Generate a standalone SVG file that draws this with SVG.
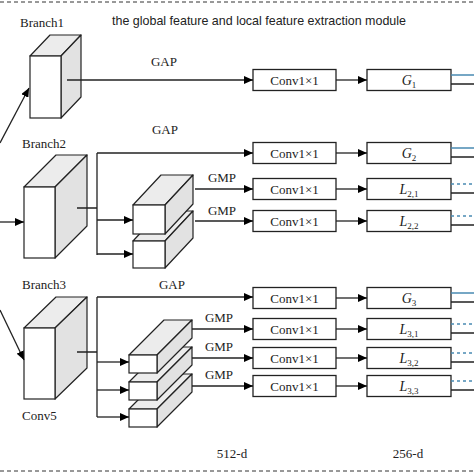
<svg xmlns="http://www.w3.org/2000/svg" width="474" height="474" viewBox="0 0 474 474">
<defs>
<marker id="ah" markerWidth="9" markerHeight="8" refX="9" refY="4" orient="auto" markerUnits="userSpaceOnUse"><path d="M0,0 L9,4 L0,8 z" fill="#000"/></marker>
</defs>
<style>
.t{font-family:"Liberation Serif","Times New Roman",serif;font-size:13px;fill:#222}
.ts{font-family:"Liberation Sans",Arial,sans-serif;font-size:13px;fill:#222}
.lb{font-family:"Liberation Serif","Times New Roman",serif;font-size:14px;font-style:italic;fill:#222;text-anchor:middle}
.sub{font-size:9px;font-style:normal}
.box{fill:#fff;stroke:#222;stroke-width:1.3}
.front{fill:#fff;stroke:#222;stroke-width:1.2}
.top{fill:#ececec;stroke:#222;stroke-width:1.2;stroke-linejoin:round}
.side{fill:#e2e2e2;stroke:#222;stroke-width:1.2;stroke-linejoin:round}
.ln{stroke:#222;stroke-width:1.3;fill:none}
.ar{stroke:#222;stroke-width:1.3;fill:none;marker-end:url(#ah)}
.bl{stroke:#4a8bb3;stroke-width:1.6;fill:none}
.bd{stroke:#4a8bb3;stroke-width:1.4;fill:none;stroke-dasharray:3 3}
.dash{stroke:#333;stroke-width:1;stroke-dasharray:4 3;fill:none}
.c{text-anchor:middle}
</style>
<rect width="474" height="474" fill="#fff"/>
<line class="dash" x1="0" y1="2" x2="474" y2="2"/>
<line class="dash" x1="0" y1="471" x2="474" y2="471"/>
<text class="ts" x="112" y="25" textLength="294" lengthAdjust="spacingAndGlyphs">the global feature and local feature extraction module</text>

<g id="branch1">
<polygon class="top" points="30,56 50,35 81,35 61,56"/>
<polygon class="side" points="61,56 81,35 81,97 61,118"/>
<rect class="front" x="30" y="56" width="31" height="62"/>
<text class="t" x="20" y="27">Branch1</text>
</g>
<g id="branch2">
<polygon class="top" points="24,187 56,155 87,155 55,187"/>
<polygon class="side" points="55,187 87,155 87,226 55,258"/>
<rect class="front" x="24" y="187" width="31" height="71"/>
<text class="t" x="22" y="148">Branch2</text>
</g>
<g id="branch2-parts">
<polygon class="top" points="133,241 161,211 193,211 165,241"/>
<polygon class="side" points="165,241 193,211 193,238 165,268"/>
<rect class="front" x="133" y="241" width="32" height="27"/>
<polygon class="top" points="133,205 161,175 193,175 165,205"/>
<polygon class="side" points="165,205 193,175 193,204 165,234"/>
<rect class="front" x="133" y="205" width="32" height="29"/>
</g>
<g id="branch3">
<polygon class="top" points="24,328 56,297 87,297 55,328"/>
<polygon class="side" points="55,328 87,297 87,368 55,399"/>
<rect class="front" x="24" y="328" width="31" height="71"/>
<text class="t" x="22" y="289">Branch3</text>
<text class="t" x="22" y="420">Conv5</text>
</g>
<g id="branch3-parts">
<polygon class="top" points="129,409 164,374 192,374 157,409"/>
<polygon class="side" points="157,409 192,374 192,392 157,427"/>
<rect class="front" x="129" y="409" width="28" height="18"/>
<polygon class="top" points="129,382 164,347 192,347 157,382"/>
<polygon class="side" points="157,382 192,347 192,365 157,400"/>
<rect class="front" x="129" y="382" width="28" height="18"/>
<polygon class="top" points="129,355 164,320 192,320 157,355"/>
<polygon class="side" points="157,355 192,320 192,338 157,373"/>
<rect class="front" x="129" y="355" width="28" height="18"/>
</g>

<g id="conv-g1"><rect class="box" x="253" y="69.5" width="83" height="21"/><text class="t c" x="294.5" y="85">Conv1×1</text></g>
<g id="conv-g2"><rect class="box" x="253" y="142.5" width="83" height="21"/><text class="t c" x="294.5" y="158">Conv1×1</text></g>
<g id="conv-l21"><rect class="box" x="253" y="178.5" width="83" height="21"/><text class="t c" x="294.5" y="194">Conv1×1</text></g>
<g id="conv-l22"><rect class="box" x="253" y="210.5" width="83" height="21"/><text class="t c" x="294.5" y="226">Conv1×1</text></g>
<g id="conv-g3"><rect class="box" x="253" y="287.5" width="83" height="21"/><text class="t c" x="294.5" y="303">Conv1×1</text></g>
<g id="conv-l31"><rect class="box" x="253" y="318.5" width="83" height="21"/><text class="t c" x="294.5" y="334">Conv1×1</text></g>
<g id="conv-l32"><rect class="box" x="253" y="347.5" width="83" height="21"/><text class="t c" x="294.5" y="363">Conv1×1</text></g>
<g id="conv-l33"><rect class="box" x="253" y="375.5" width="83" height="21"/><text class="t c" x="294.5" y="391">Conv1×1</text></g>

<g id="g1"><rect class="box" x="367" y="69.5" width="84" height="21"/><text class="lb" x="409" y="85">G<tspan class="sub" dy="3">1</tspan></text></g>
<g id="g2"><rect class="box" x="367" y="142.5" width="84" height="21"/><text class="lb" x="409" y="158">G<tspan class="sub" dy="3">2</tspan></text></g>
<g id="l21"><rect class="box" x="367" y="178.5" width="84" height="21"/><text class="lb" x="409" y="194">L<tspan class="sub" dy="3">2,1</tspan></text></g>
<g id="l22"><rect class="box" x="367" y="210.5" width="84" height="21"/><text class="lb" x="409" y="226">L<tspan class="sub" dy="3">2,2</tspan></text></g>
<g id="g3"><rect class="box" x="367" y="287.5" width="84" height="21"/><text class="lb" x="409" y="303">G<tspan class="sub" dy="3">3</tspan></text></g>
<g id="l31"><rect class="box" x="367" y="318.5" width="84" height="21"/><text class="lb" x="409" y="334">L<tspan class="sub" dy="3">3,1</tspan></text></g>
<g id="l32"><rect class="box" x="367" y="347.5" width="84" height="21"/><text class="lb" x="409" y="363">L<tspan class="sub" dy="3">3,2</tspan></text></g>
<g id="l33"><rect class="box" x="367" y="375.5" width="84" height="21"/><text class="lb" x="409" y="391">L<tspan class="sub" dy="3">3,3</tspan></text></g>

<g id="connectors">
<line class="ar" x1="0" y1="143" x2="29" y2="88"/>
<line class="ar" x1="67" y1="80" x2="253" y2="80"/>
<line class="ar" x1="0" y1="222" x2="24" y2="222"/>
<path class="ln" d="M77,208 H97 M97,153 V255"/>
<line class="ar" x1="97" y1="153" x2="253" y2="153"/>
<line class="ar" x1="97" y1="220" x2="133" y2="220"/>
<line class="ar" x1="97" y1="254" x2="133" y2="254"/>
<line class="ar" x1="195" y1="189" x2="253" y2="189"/>
<line class="ar" x1="195" y1="221" x2="253" y2="221"/>
<line class="ar" x1="0" y1="310" x2="24" y2="360"/>
<path class="ln" d="M77,352 H97 M97,297 V417"/>
<line class="ar" x1="97" y1="297" x2="253" y2="297"/>
<line class="ar" x1="97" y1="362" x2="129" y2="362"/>
<line class="ar" x1="97" y1="390" x2="129" y2="390"/>
<line class="ar" x1="97" y1="417" x2="129" y2="417"/>
<line class="ar" x1="192" y1="329" x2="253" y2="329"/>
<line class="ar" x1="192" y1="358" x2="253" y2="358"/>
<line class="ar" x1="192" y1="386" x2="253" y2="386"/>
<line class="ar" x1="336" y1="80" x2="367" y2="80"/>
<line class="ar" x1="336" y1="153" x2="367" y2="153"/>
<line class="ar" x1="336" y1="189" x2="367" y2="189"/>
<line class="ar" x1="336" y1="221" x2="367" y2="221"/>
<line class="ar" x1="336" y1="298" x2="367" y2="298"/>
<line class="ar" x1="336" y1="329" x2="367" y2="329"/>
<line class="ar" x1="336" y1="358" x2="367" y2="358"/>
<line class="ar" x1="336" y1="386" x2="367" y2="386"/>
<path class="bl" d="M451,75 H474 M451,148 H474 M451,293 H474"/>
<path class="bd" d="M451,184 H474 M451,216 H474 M451,324 H474 M451,353 H474 M451,381 H474"/>
<path class="ln" d="M451,84 H474 M451,157 H474 M451,193 H474 M451,225 H474 M451,302 H474 M451,333 H474 M451,362 H474 M451,390 H474"/>
</g>

<g id="labels">
<text class="t c" x="164" y="66">GAP</text>
<text class="t c" x="165" y="134">GAP</text>
<text class="t c" x="172" y="289">GAP</text>
<text class="t c" x="222" y="182">GMP</text>
<text class="t c" x="222" y="215">GMP</text>
<text class="t c" x="219" y="322">GMP</text>
<text class="t c" x="219" y="351">GMP</text>
<text class="t c" x="219" y="379">GMP</text>
<text class="t c" x="232" y="458">512-d</text>
<text class="t c" x="408" y="458">256-d</text>
</g>
</svg>
